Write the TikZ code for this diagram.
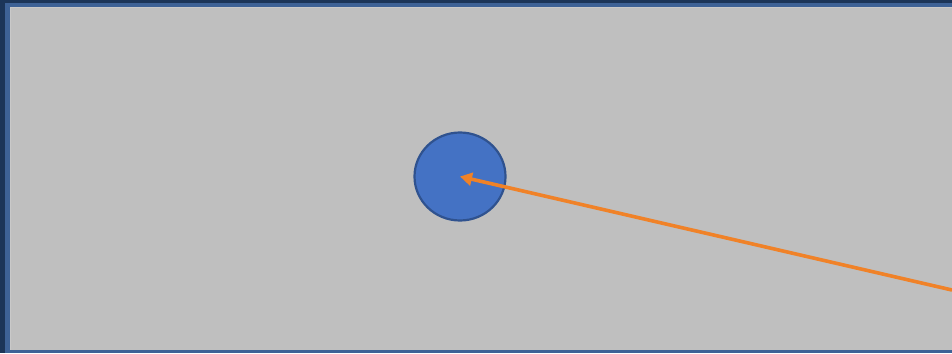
\documentclass[tikz,border=0pt]{standalone}
\usetikzlibrary{arrows.meta,shapes.geometric}
\definecolor{frameDark}{HTML}{1C3558}
\definecolor{frameBlue}{HTML}{3E6296}
\definecolor{bgGrey}{HTML}{BFBFBF}
\definecolor{ballFill}{HTML}{4472C4}
\definecolor{ballLine}{HTML}{2F528F}
\definecolor{arrowOrange}{HTML}{F08228}
\tikzset{
  ball/.style={ellipse, minimum width=91pt, minimum height=88pt, inner sep=0pt, fill=ballFill, draw=ballLine, line width=2.2pt},
  vector/.style={draw=arrowOrange, line width=3.6pt, -{Triangle[length=12pt,width=13pt]}}
}
\begin{document}
\begin{tikzpicture}[x=1pt,y=-1pt]
\useasboundingbox (0,0) rectangle (952,353);
\fill[frameDark] (0,0) rectangle (952,353);
\fill[frameBlue] (4.5,3) rectangle (952,353);
\fill[bgGrey!85!white] (9.5,7.5) rectangle (952,350);
\fill[bgGrey] (10.5,8.5) rectangle (952,349.5);
\node[ball] (b) at (460,176.5) {};
\coordinate (s) at (952,290);
\coordinate (c) at (460,176.5);
\draw[vector] (s) -- (c);
\end{tikzpicture}
\end{document}
